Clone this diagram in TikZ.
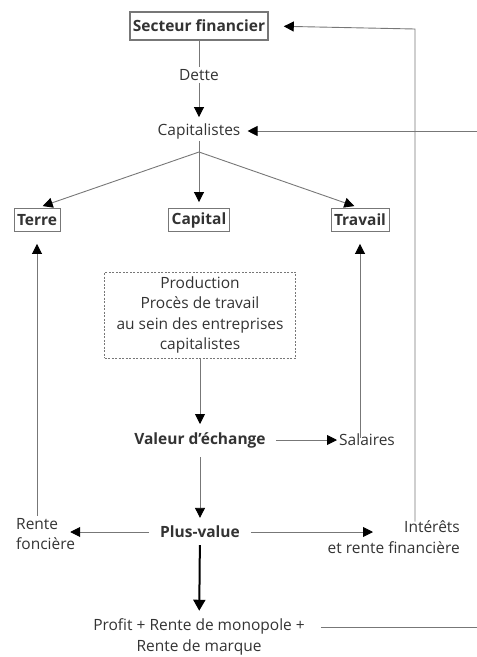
\documentclass[tikz,border=0pt]{standalone}
\usepackage{fontspec}
\setmainfont{Open Sans}
\usepackage{tikz}
\usetikzlibrary{arrows.meta,positioning,calc}
\definecolor{fgray}{HTML}{777777}
\definecolor{ftext}{HTML}{333333}
\tikzset{
  ftip/.tip={Triangle[length=10pt,width=10pt,color=black]},
  flbl/.style={text=ftext, font=\fontsize{15.5}{20.5}\selectfont, inner sep=2pt, align=center},
  fbold/.style={flbl, font=\fontsize{15.5}{20.5}\selectfont\bfseries},
  fbox/.style={fbold, draw=fgray, line width=0.9pt, minimum height=23pt, inner xsep=3pt},
  fprod/.style={flbl, draw=fgray, line width=0.7pt, dash pattern=on 2pt off 1.5pt,
                minimum width=191pt, minimum height=86pt},
  fline/.style={draw=fgray, line width=0.9pt},
  fflow/.style={fline, -ftip},
}

\begin{document}
\begin{tikzpicture}[x=1pt,y=-1pt]
  \useasboundingbox (0,0) rectangle (477,657);

  % --- haut : finance et capitalistes ---
  \node[fbox, line width=1.4pt, minimum height=28pt] (fin) at (199,26) {Secteur financier};
  \node[flbl] (dette) at (199,75) {Dette};
  \node[flbl] (capi) at (199,131) {Capitalistes};
  \coordinate (br) at (199,152);
  \coordinate (finR) at (415,29);
  \coordinate (edgeA) at (477,131);
  \coordinate (edgeB) at (477,627);

  % --- facteurs ---
  \node[fbox] (terre) at (37,220) {Terre};
  \node[fbox] (capital) at (199,220) {Capital};
  \node[fbox] (travail) at (360,220) {Travail};

  % --- production et valeur ---
  \node[fprod] (prod) at (200,315) {Production\\Procès de travail\\au sein des entreprises\\capitalistes};
  \node[fbold] (valeur) at (200,440) {Valeur d’échange};
  \node[flbl, anchor=west] (sal) at (337,440) {Salaires};
  \node[fbold] (plus) at (200,532) {Plus-value};
  \node[flbl, align=left, anchor=west] (rente) at (14,534) {Rente\\foncière};
  \node[flbl, align=right, anchor=east] (inter) at (462,537) {Intérêts\\et rente financière};
  \node[flbl] (profit) at (199,637) {Profit + Rente de monopole +\\Rente de marque};

  % connecteurs
  \draw[fline] (fin) -- (dette);
  \draw[fflow, shorten >=4pt] (dette) -- (capi);
  \draw[fline] (capi) -- (br);
  \draw[fflow, shorten >=6pt] (br) -- (terre.north);
  \draw[fflow, shorten >=6pt] (br) -- (capital.north);
  \draw[fflow, shorten >=6pt] (br) -- (travail.north);
  \draw[fflow, shorten >=5pt] (edgeA) -- (capi);

  \draw[fflow, shorten >=12pt] (rente.north -| terre) -- (terre);
  \draw[fflow, shorten <=-6pt, shorten >=12pt] (sal.north -| travail) -- (travail);
  \draw[fflow, shorten <=-3pt, shorten >=15pt] (finR |- inter.north) -- (finR) -- (fin.east);

  \draw[fflow, shorten >=6pt] (prod) -- (valeur);
  \draw[fflow, shorten <=8pt] (valeur) -- (sal);
  \draw[fflow, shorten <=7pt, shorten >=6pt] (valeur) -- (plus);
  \draw[fflow, shorten <=9pt, shorten >=-7pt] (plus.west) -- (plus.west -| rente.east);
  \draw[fflow, shorten <=9pt] (plus.east) -- (plus.east -| 373,0);
  \draw[draw=black, line width=2pt, -{Triangle[length=11pt,width=12pt]},
        shorten <=5pt, shorten >=6pt] (plus) -- (profit);
  \draw[fline, shorten <=14pt] (edgeB -| profit.east) -- (edgeB);

\end{tikzpicture}
\end{document}
